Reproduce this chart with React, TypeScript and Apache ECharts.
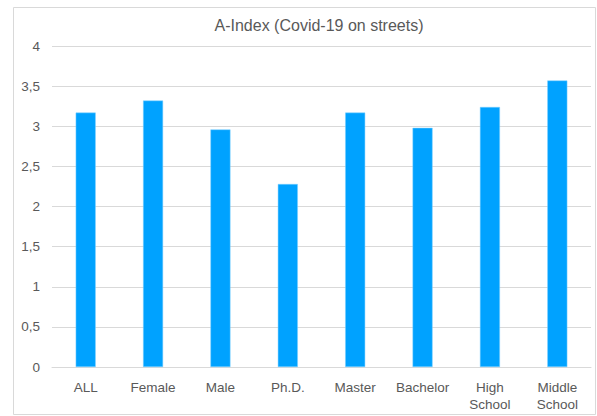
import React, { useEffect, useRef } from "react";
import * as echarts from "echarts";

const categories = ["ALL", "Female", "Male", "Ph.D.", "Master", "Bachelor", "High\nSchool", "Middle\nSchool"];
const values = [3.17, 3.32, 2.96, 2.28, 3.17, 2.98, 3.24, 3.57];
const titleText = "A-Index (Covid-19 on streets)";

export default function App() {
  const ref = useRef<HTMLDivElement>(null);
  useEffect(() => {
    const chart = echarts.init(ref.current!, null, { renderer: "svg" });
    const font = "Liberation Sans, Arial, Helvetica, sans-serif";
    chart.setOption({
      animation: false,
      textStyle: { fontFamily: font },
      title: {
        text: titleText,
        left: 314,
        top: 12,
        textAlign: "center",
        textStyle: { fontSize: 16, fontWeight: "normal", color: "#595959", fontFamily: font },
      },
      graphic: [
        {
          type: "rect",
          shape: { x: 13.5, y: 7.5, width: 582, height: 407 },
          style: { fill: "none", stroke: "#d9d9d9", lineWidth: 1 },
          silent: true,
        },
      ],
      grid: { left: 52, right: 6, top: 46, bottom: 49, containLabel: false },
      xAxis: {
        type: "category",
        data: categories,
        axisLine: { lineStyle: { color: "#d9d9d9" } },
        axisTick: { show: false },
        axisLabel: { color: "#595959", fontSize: 13.5, margin: 12, lineHeight: 17, interval: 0, fontFamily: font },
      },
      yAxis: {
        type: "value",
        min: 0,
        max: 4,
        interval: 0.5,
        axisLine: { show: false },
        axisTick: { show: false },
        splitLine: { lineStyle: { color: "#d9d9d9" } },
        axisLabel: {
          color: "#595959",
          fontSize: 13.5,
          margin: 12,
          fontFamily: font,
          formatter: (v: number) => String(v).replace(".", ","),
        },
      },
      series: [
        {
          type: "bar",
          data: values,
          barWidth: 20,
          itemStyle: { color: "#00A2FF", borderColor: "#7fd0ff", borderWidth: 0.5 },
        },
      ],
    });
    return () => chart.dispose();
  }, []);
  return <div ref={ref} style={{ width: 597, height: 416, position: "absolute", left: 0, top: 0 }} />;
}
